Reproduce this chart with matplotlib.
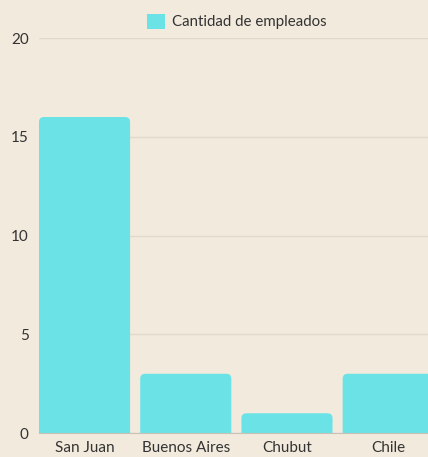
import matplotlib.pyplot as plt
from matplotlib.patches import FancyBboxPatch, Patch

plt.rcParams['font.family'] = ['Lato', 'DejaVu Sans']

provincias = ['San Juan', 'Buenos Aires', 'Chubut', 'Chile']
empleados = [16, 3, 1, 3]

fondo = '#f2eadd'
color_barra = '#6be3e6'

fig = plt.figure(figsize=(4.28, 4.57), dpi=100, facecolor=fondo)
ax = fig.add_axes([0.0911, 0.0525, 0.946, 0.8643], facecolor=fondo)

x = list(range(len(provincias)))
barras = ax.bar(x, empleados, width=0.9, color=color_barra)

# reemplazar cada barra por un rectangulo con esquinas superiores redondeadas
for b in barras:
    b.set_visible(False)
    p = FancyBboxPatch((b.get_x(), -1), b.get_width(), b.get_height() + 1,
                       boxstyle='round,pad=0,rounding_size=0.05',
                       mutation_aspect=5, facecolor=color_barra,
                       edgecolor='none', zorder=2)
    ax.add_patch(p)

ax.set_xlim(-0.45, len(provincias) - 0.45)
ax.set_ylim(0, 20)
ax.set_yticks([0, 5, 10, 15, 20])
ax.set_xticks(x)
ax.set_xticklabels(provincias)

ax.grid(axis='y', color='#e2d9cb', linewidth=1, zorder=0)
ax.set_axisbelow(True)
for s in ['top', 'right', 'left']:
    ax.spines[s].set_visible(False)
ax.spines['bottom'].set_color('#c9c1b5')
ax.spines['bottom'].set_zorder(3)
ax.tick_params(axis='both', length=0, labelsize=11, labelcolor='#333333')
ax.tick_params(axis='y', pad=7.5)
ax.tick_params(axis='x', pad=6)

marca = Patch(facecolor=color_barra, edgecolor='none')
fig.legend(handles=[marca], labels=['Cantidad de empleados'],
           loc='upper center', bbox_to_anchor=(0.553, 1.0), frameon=False,
           fontsize=10.8, handlelength=1.2, handleheight=1.2,
           handletextpad=0.5, labelcolor='#333333')

fig.savefig('out.png', dpi=100, facecolor=fondo)
